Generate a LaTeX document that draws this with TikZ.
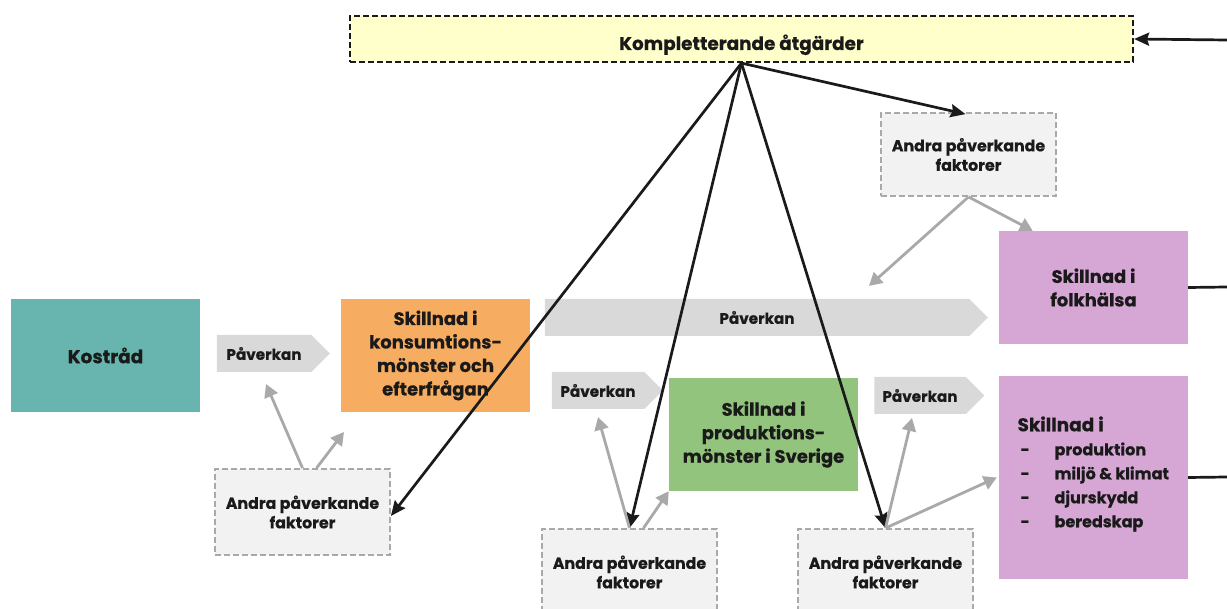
\documentclass[tikz,border=0pt]{standalone}
\usepackage{fontspec}
\setmainfont{Poppins}[BoldFeatures={FakeBold=0.5}]
\usepackage{xcolor}
\usepackage{tikz}
\usetikzlibrary{positioning,arrows.meta,shapes.symbols}

\definecolor{kostcol}{HTML}{67B5AE}
\definecolor{konscol}{HTML}{F6AC61}
\definecolor{prodcol}{HTML}{93C47D}
\definecolor{folkcol}{HTML}{D6A6D5}
\definecolor{kompcol}{HTML}{FFFFCC}
\definecolor{pavcol}{HTML}{D9D9D9}
\definecolor{othercol}{HTML}{F2F2F2}
\definecolor{dashcol}{HTML}{A9A9A9}
\definecolor{txtcol}{HTML}{1A1A1A}

\begin{document}
\begin{tikzpicture}[
  x=1pt, y=-1pt, text=txtcol,
  res/.style={inner sep=0pt, align=center, minimum width=189pt, minimum height=113pt,
              font=\bfseries\fontsize{18}{23.5}\selectfont},
  other/.style={draw=dashcol, fill=othercol, line width=1.8pt, dash pattern=on 6pt off 3pt,
                inner sep=0pt, align=center, minimum width=175pt, minimum height=86pt,
                font=\bfseries\fontsize{15.8}{19.5}\selectfont},
  pav/.style={signal, signal to=east, signal pointer angle=90, fill=pavcol, draw=none,
              inner sep=0pt, minimum height=37pt, font=\bfseries\fontsize{15.2}{16}\selectfont},
  arr/.style={-{Stealth[length=15pt,width=13pt,inset=2pt]}, line width=2.7pt, draw=txtcol},
  garr/.style={-{Triangle[length=13pt,width=14pt]}, line width=2.8pt, draw=dashcol},
]
\useasboundingbox (0,0) rectangle (1227,609);

\node[draw=txtcol, fill=kompcol, line width=2.2pt, dash pattern=on 6pt off 3pt,
      minimum width=783pt, minimum height=46pt, inner sep=0pt,
      font=\bfseries\fontsize{18.4}{20}\selectfont] (komp) at (741.5,39) {\smash{\raisebox{-11pt}{Kompletterande åtgärder}}};

\node[res, fill=kostcol, font=\bfseries\fontsize{18.5}{20}\selectfont] (kost) at (105.5,355.5) {Kostråd};
\node[res, fill=konscol] (kons) at (435.5,355.5) {Skillnad i\\konsumtions-\\mönster och\\efterfrågan};
\node[res, fill=folkcol] (folk) at (1093.5,287.5) {Skillnad i\\folkhälsa};
\node[res, fill=prodcol] (prod) at (763.5,434.5) {Skillnad i\\produktions-\\mönster i Sverige};
\node[res, fill=folkcol, minimum height=203pt] (effekt) at (1093.5,477.5) {};
\node[anchor=west, align=left, font=\bfseries\fontsize{16}{24}\selectfont] (lista) at (1014,474)
  {{\fontsize{18.5}{24}\selectfont Skillnad i}\\
   \makebox[37pt][l]{\hspace{3pt}-}produktion\\
   \makebox[37pt][l]{\hspace{3pt}-}miljö \& klimat\\
   \makebox[37pt][l]{\hspace{3pt}-}djurskydd\\
   \makebox[37pt][l]{\hspace{3pt}-}beredskap};

\node[pav, minimum width=113pt] (pav1) at (264,353.5) {Påverkan};
\node[pav, minimum width=443pt] (pavbig) at (757,317.5) {Påverkan};
\node[pav, minimum width=111pt] (pav2) at (598,390.5) {Påverkan};
\node[pav, minimum width=110pt] (pav3) at (920,395.5) {Påverkan};

\node[other] (otherA) at (302.5,512) {Andra påverkande\\faktorer};
\node[other] (otherB) at (629.5,572) {Andra påverkande\\faktorer};
\node[other] (otherC) at (885.5,572) {Andra påverkande\\faktorer};
\node[other, minimum height=83pt] (otherD) at (968.5,154.5) {Andra påverkande\\faktorer};

\coordinate (inkomp) at (1227,40);
\coordinate (utfolk) at (1227,287);
\coordinate (uteff) at (1227,477);
\coordinate (gA1) at (266,384);
\coordinate (gA2) at (344,432);
\coordinate (gB1) at (598,417);
\coordinate (gC1) at (912,418);
\coordinate (gD1) at (869,286);

\draw[arr] (inkomp) -- (komp.east);
\draw[line width=2.7pt, draw=txtcol] (folk.east) -- (utfolk);
\draw[line width=2.7pt, draw=txtcol] (effekt.east) -- (uteff);

\draw[arr] (komp.south) -- ([yshift=-4pt]otherA.east);
\draw[arr] (komp.south) -- (otherB.north);
\draw[arr] (komp.south) -- (otherC.north);
\draw[arr] (komp.south) -- ([xshift=-3pt,yshift=-2pt]otherD.north);

\draw[garr] (otherA.north) -- (gA1);
\draw[garr] ([xshift=14pt]otherA.north) -- (gA2);
\draw[garr] (otherB.north) -- (gB1);
\draw[garr] ([xshift=14pt]otherB.north) -- (prod.south west);
\draw[garr] (otherC.north) -- (gC1);
\draw[garr] (otherC.north) -- ([xshift=-2pt]effekt.west);
\draw[garr] (otherD.south) -- (gD1);
\draw[garr] (otherD.south) -- ([xshift=34pt]folk.north west);
\end{tikzpicture}
\end{document}
